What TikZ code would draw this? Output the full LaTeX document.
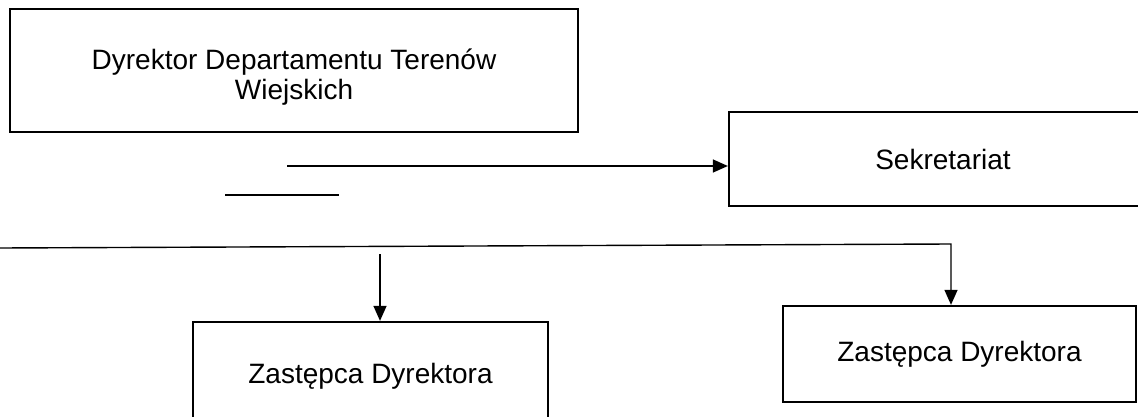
\documentclass[tikz,border=0pt]{standalone}
\usepackage{fontspec}
\setmainfont{Liberation Sans}
\usetikzlibrary{arrows.meta}
\begin{document}
\begin{tikzpicture}[x=1pt,y=-1pt,
  box/.style={draw=black,line width=2.3pt,inner sep=0pt,align=center,
    font=\fontsize{28}{30}\selectfont},
  conn/.style={draw=black,line width=1.4pt},
  arr/.style={conn,-{Triangle[length=15pt,width=13pt]}}]
\useasboundingbox (0,0) rectangle (1138,417);
\clip (0,0) rectangle (1138,417);
\node[box,minimum width=568pt,minimum height=123pt] (dyr) at (294,70.5)
  {\raisebox{-8pt}[\height][\depth]{\begin{tabular}{@{}c@{}}Dyrektor Departamentu Terenów\\Wiejskich\end{tabular}}};
\node[box,minimum width=428pt,minimum height=94pt] (sek) at (943,159) {Sekretariat};
\node[box,minimum width=355pt,minimum height=108pt] (z1) at (370.5,376) {Zastępca Dyrektora};
\node[box,minimum width=353pt,minimum height=96pt] (z2) at (959.5,354) {Zastępca Dyrektora};
\coordinate (a1) at (287,166);
\coordinate (b0) at (225,195);
\coordinate (b1) at (339,195);
\coordinate (l0) at (0,248);
\coordinate (l1) at (951,244);
\coordinate (d0) at (380,254);
\draw[arr] (a1) -- (a1 -| sek.west);
\draw[conn] (b0) -- (b1);
\draw[arr] (l0) -- (l1) -- (l1 |- z2.north);
\draw[arr] (d0) -- (d0 |- z1.north);
\end{tikzpicture}
\end{document}
